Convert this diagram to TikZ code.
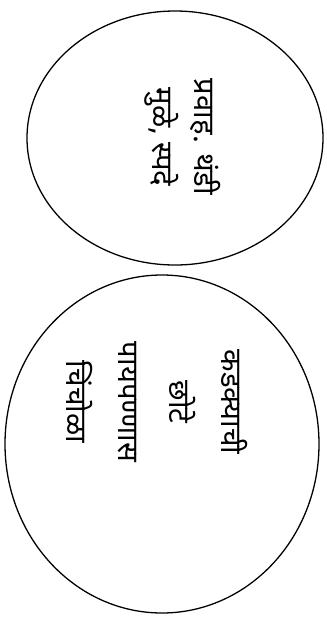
\documentclass[tikz,border=0pt]{standalone}
\usepackage{fontspec}
\newfontfamily\deva[Script=Devanagari]{Noto Sans}
\usetikzlibrary{shapes.geometric}

\begin{document}
\begin{tikzpicture}[x=0.03cm, y=-0.03cm,
  bubble/.style={draw=black, ellipse, line width=1.1pt, inner sep=0pt},
  bubbletext/.style={rotate=-90, align=center}
]
\useasboundingbox (0,0) rectangle (326,639);

\node[bubble, minimum width=296*0.03cm, minimum height=254*0.03cm] (cause) at (175,138) {};
\node[bubbletext, font=\deva\fontsize{25}{36}\selectfont] (causetext) at (183,137) {प्रवाह. थंडी\\ मुळे, स्पदे};

\node[bubble, minimum width=314*0.03cm, minimum height=338*0.03cm] (shape) at (162,444) {};
\node[bubbletext, font=\deva\fontsize{25}{44}\selectfont] (shapetext) at (157,402) {कडक्याची\\ छोटे\\ पायपण्णास\\ चिंचोळा};
\end{tikzpicture}
\end{document}
